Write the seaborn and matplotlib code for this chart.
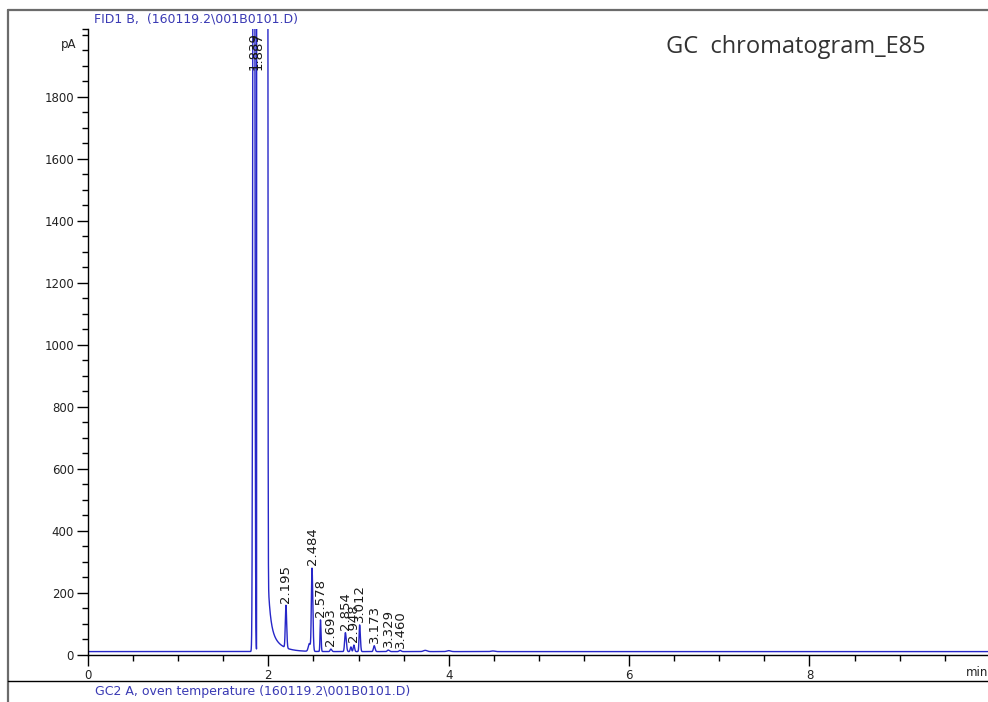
import numpy as np
import pandas as pd
import matplotlib
matplotlib.use("Agg")
import matplotlib.pyplot as plt
import seaborn as sns
from matplotlib.lines import Line2D
from matplotlib.ticker import FixedLocator, MultipleLocator

# ---- detector FID1 B: integrated peaks (retention time in min, height in pA above baseline)
peak_rt = [1.839, 1.887, 2.195, 2.484, 2.578, 2.693, 2.854, 2.948, 3.012, 3.173, 3.329, 3.460]
peak_height = [6000, 1.0e6, 137, 267, 102, 8, 61, 21, 86, 19, 5, 4]
peak_sigma_left = [0.008, 0.0124, 0.007, 0.007, 0.005, 0.008, 0.008, 0.007, 0.006, 0.008, 0.010, 0.010]
peak_sigma_right = [0.008, 0.0788, 0.008, 0.009, 0.006, 0.010, 0.010, 0.008, 0.008, 0.010, 0.012, 0.012]
peak_shape = [2, 8, 2, 2, 2, 2, 2, 2, 2, 2, 2, 2]   # 8 = flat-topped, overloaded ethanol peak
peak_labels = ["1.839", "1.887", "2.195", "2.484", "2.578", "2.693", "2.854", "2.948",
               "3.012", "3.173", "3.329", "3.460"]

# unlabelled shoulders and bumps
minor_rt = [2.455, 2.915, 3.74, 4.00, 4.49]
minor_height = [25, 15, 4, 3, 2]
minor_sigma = [0.012, 0.007, 0.02, 0.02, 0.02]

# solvent tail behind the ethanol peak
tail_start = 1.995
tail_amp = [150, 90]
tail_tau = [0.025, 0.10]
baseline = 11

x_major = [0, 2, 4, 6, 8]
y_major = [0, 200, 400, 600, 800, 1000, 1200, 1400, 1600, 1800]
x_max = 9.98
y_max = 2018


def peak(t, rt, h, sl, sr, p):
    s = np.where(t < rt, sl, sr)
    return h * np.exp(-0.5 * np.abs((t - rt) / s) ** p)


time = np.linspace(0, x_max, 40000)
signal = np.full_like(time, float(baseline))
for rt, h, sl, sr, p in zip(peak_rt, peak_height, peak_sigma_left, peak_sigma_right, peak_shape):
    signal += peak(time, rt, h, sl, sr, p)
for rt, h, s in zip(minor_rt, minor_height, minor_sigma):
    signal += peak(time, rt, h, s, s, 2)
after = time >= tail_start
for a, tau in zip(tail_amp, tail_tau):
    signal[after] += a * np.exp(-(time[after] - tail_start) / tau)

df = pd.DataFrame({"time": time, "signal": signal})

sns.set_style("white")
plt.rcParams["font.family"] = ["DejaVu Sans"]

fig = plt.figure(figsize=(9.88, 7.02), dpi=100)
ax = fig.add_axes([88 / 988, 47 / 702, 900 / 988, 626 / 702])

sns.lineplot(data=df, x="time", y="signal", ax=ax, color="#2626c8", linewidth=1.0,
             estimator=None, sort=False)

ax.set_xlim(0, x_max)
ax.set_ylim(0, y_max)
ax.set_xlabel("")
ax.set_ylabel("")
ax.set_xticks(x_major)
ax.set_xticklabels([str(v) for v in x_major])
ax.xaxis.set_minor_locator(MultipleLocator(0.5))
ax.set_yticks(y_major)
ax.set_yticklabels([str(v) for v in y_major])
ax.yaxis.set_minor_locator(FixedLocator(list(range(0, 2001, 50)) + [y_max]))

for side in ["top", "right"]:
    ax.spines[side].set_visible(False)
for side in ["left", "bottom"]:
    ax.spines[side].set_color("black")
    ax.spines[side].set_linewidth(1.0)

ax.tick_params(axis="both", which="both", bottom=True, left=True, top=False, right=False)
ax.tick_params(axis="both", which="major", direction="out", length=8, width=1,
               colors="black", labelsize=8.5, pad=2)
ax.tick_params(axis="both", which="minor", direction="out", length=4.5, width=1,
               colors="black")
for lab in ax.get_xticklabels() + ax.get_yticklabels():
    lab.set_color("#222222")

# retention-time labels above each peak
for rt, text in zip(peak_rt, peak_labels):
    apex = np.interp(rt, time, signal)
    if apex >= y_max:
        ax.text(rt, y_max * 0.995, text, rotation=90, ha="center", va="top",
                fontsize=9.5, color="#1a1a1a", clip_on=False)
    else:
        ax.annotate(text, xy=(rt, apex), xytext=(0, 2), textcoords="offset points",
                    rotation=90, ha="center", va="bottom", fontsize=9.5, color="#1a1a1a")

# unit labels
ax.text(-0.013, 1968, "pA", transform=ax.get_yaxis_transform(), ha="right", va="center",
        fontsize=8.5, color="#222222")
fig.text(1.0, 1 - 673 / 702, "min", ha="right", va="center", fontsize=8.5, color="#222222")

# panel frame and captions
frame = "#6b6b6b"
fig.add_artist(Line2D([7.5 / 988, 7.5 / 988], [0, 1 - 10 / 702], transform=fig.transFigure,
                      color=frame, linewidth=1.6))
fig.add_artist(Line2D([7.5 / 988, 1], [1 - 10 / 702, 1 - 10 / 702], transform=fig.transFigure,
                      color=frame, linewidth=1.6))
fig.add_artist(Line2D([7.5 / 988, 1], [1 - 681 / 702, 1 - 681 / 702], transform=fig.transFigure,
                      color="black", linewidth=1.0))

fig.text(94 / 988, 1 - 19 / 702, "FID1 B,  (160119.2\\001B0101.D)", ha="left", va="center",
         fontsize=9, color="#3a3ab4")
fig.text(95 / 988, 1 - 691 / 702, "GC2 A, oven temperature (160119.2\\001B0101.D)",
         ha="left", va="center", fontsize=9, color="#3a3ab4")
fig.text(666 / 988, 1 - 47 / 702, "GC  chromatogram_E85", ha="left", va="center",
         fontsize=17, color="#333333", family=["Open Sans", "DejaVu Sans"])

fig.savefig("out.png", dpi=100, facecolor="white")
